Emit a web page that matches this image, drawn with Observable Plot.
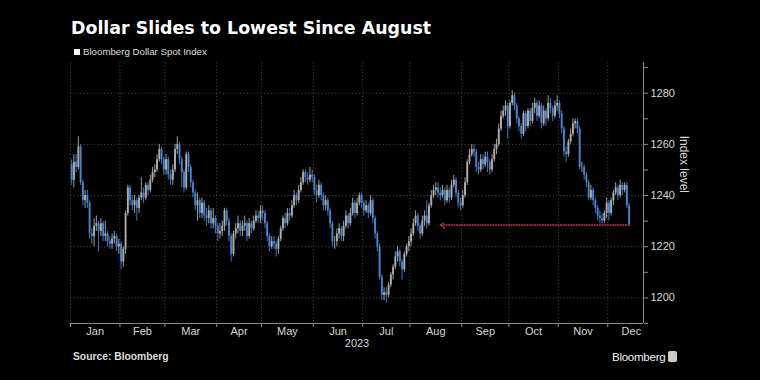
<!DOCTYPE html>
<html>
<head>
<meta charset="utf-8">
<script src="https://cdn.jsdelivr.net/npm/d3@7"></script>
<script src="https://cdn.jsdelivr.net/npm/@observablehq/plot@0.6"></script>
<style>
  html, body { margin: 0; padding: 0; background: #000; }
  #wrap { position: relative; width: 760px; height: 380px; background: #000; overflow: hidden; font-family: "Liberation Sans", Arial, sans-serif; }
  #title { position: absolute; left: 71px; top: 18px; color: #fff; font-family: "DejaVu Sans", sans-serif; font-weight: bold; font-size: 17.4px; line-height: 21px; white-space: nowrap; }
  #sub { position: absolute; left: 74px; top: 46px; color: #ddd; font-size: 9.7px; line-height: 12px; white-space: nowrap; }
  #sub span.sq { display: inline-block; width: 6px; height: 6px; background: #fff; margin-right: 3px; vertical-align: 0px; }
  #source { position: absolute; left: 73px; top: 351px; color: #ddd; font-weight: bold; font-size: 10.3px; line-height: 12px; white-space: nowrap; }
  #logo { position: absolute; left: 612px; top: 349px; color: #eee; font-size: 11.6px; letter-spacing: -0.3px; line-height: 15px; white-space: nowrap; }
  #logo span.ic { display: inline-block; width: 9px; height: 11px; background: #ccc; border-radius: 2px; margin-left: 3px; vertical-align: -1px; }
  #chart { position: absolute; left: 0; top: 0; }
</style>
</head>
<body>
<div id="wrap">
  <div id="chart"></div>
  <div id="title">Dollar Slides to Lowest Since August</div>
  <div id="sub"><span class="sq"></span>Bloomberg Dollar Spot Index</div>
  <div id="source">Source: Bloomberg</div>
  <div id="logo">Bloomberg<span class="ic"></span></div>
</div>
<script>
// ---- Data (trading days of 2023) ----
const monthNames = ["Jan","Feb","Mar","Apr","May","Jun","Jul","Aug","Sep","Oct","Nov","Dec"];
const monthTradingDays = [22,20,23,20,23,22,21,23,21,22,22,21];
const yearLabel = "2023";
const firstOpen = 1252;

const closeJan = [1246,1253,1251,1259,1245,1238,1240,1237,1225,1224,1228,1229,1226,1229,1224,1225,1222,1221,1223,1224,1220,1221];
const highJan  = [1254,1256,1256,1263,1260,1246,1242,1242,1238,1227,1231,1232,1230,1231,1230,1230,1226,1224,1225,1226,1225,1223];
const lowJan   = [1244,1243,1249,1250,1244,1236,1235,1235,1223,1221,1220,1226,1218,1224,1222,1222,1220,1219,1219,1221,1218,1217];

const closeFeb = [1214,1219,1233,1243,1238,1236,1238,1235,1239,1241,1239,1244,1242,1246,1249,1250,1254,1258,1254,1250];
const highFeb  = [1222,1220,1234,1244,1244,1240,1240,1239,1240,1247,1243,1245,1245,1248,1251,1252,1256,1260,1259,1255];
const lowFeb   = [1211,1212,1217,1232,1236,1234,1233,1230,1233,1238,1237,1238,1240,1241,1245,1247,1249,1253,1252,1248];

const closeMar = [1254,1248,1246,1250,1258,1260,1254,1249,1243,1256,1251,1245,1241,1236,1238,1233,1237,1232,1231,1234,1229,1231,1228];
const highMar  = [1256,1255,1250,1252,1260,1263,1261,1255,1250,1257,1257,1252,1246,1242,1241,1239,1239,1238,1235,1236,1235,1235,1232];
const lowMar   = [1248,1246,1244,1244,1249,1256,1252,1243,1241,1242,1249,1243,1239,1234,1230,1231,1231,1230,1228,1229,1227,1227,1225];

const closeApr = [1225,1226,1228,1234,1230,1224,1217,1225,1227,1229,1226,1228,1229,1224,1229,1227,1230,1232,1231,1234];
const highApr  = [1229,1229,1230,1235,1235,1231,1225,1226,1229,1232,1230,1230,1232,1230,1231,1230,1232,1234,1234,1236];
const lowApr   = [1222,1223,1224,1226,1228,1222,1214,1216,1223,1225,1224,1224,1226,1222,1223,1225,1226,1229,1229,1229];

const closeMay = [1233,1229,1224,1220,1222,1221,1219,1223,1227,1231,1229,1233,1232,1236,1240,1238,1242,1245,1249,1247,1246,1248,1247];
const highMay  = [1236,1234,1230,1225,1224,1224,1222,1224,1228,1232,1233,1235,1235,1238,1242,1241,1244,1247,1250,1250,1249,1251,1250];
const lowMay   = [1230,1227,1222,1218,1219,1219,1216,1217,1222,1226,1227,1228,1230,1231,1235,1236,1237,1241,1244,1245,1244,1245,1245];

const closeJun = [1242,1240,1244,1240,1236,1238,1234,1229,1222,1222,1225,1227,1224,1228,1232,1229,1233,1237,1233,1237,1240,1237];
const highJun  = [1248,1244,1246,1245,1241,1240,1239,1235,1230,1224,1227,1229,1228,1230,1234,1233,1235,1239,1238,1239,1241,1241];
const lowJun   = [1240,1237,1239,1238,1234,1234,1232,1227,1220,1219,1220,1223,1222,1222,1227,1227,1228,1232,1231,1232,1236,1235];

const closeJul = [1234,1236,1233,1238,1231,1225,1220,1208,1201,1202,1201,1205,1209,1212,1216,1218,1214,1211,1217,1220,1222];
const highJul  = [1238,1238,1237,1240,1239,1232,1226,1221,1209,1204,1204,1206,1210,1213,1218,1220,1219,1215,1218,1221,1224];
const lowJul   = [1232,1233,1231,1232,1229,1223,1218,1207,1199,1199,1198,1200,1204,1207,1211,1214,1212,1207,1210,1216,1218];

const closeAug = [1225,1229,1232,1228,1225,1230,1232,1229,1236,1240,1242,1243,1241,1240,1242,1238,1242,1239,1244,1246,1241,1237,1236];
const highAug  = [1227,1231,1234,1233,1229,1232,1234,1238,1237,1242,1244,1245,1245,1243,1244,1243,1244,1243,1246,1248,1247,1242,1239];
const lowAug   = [1220,1224,1228,1226,1223,1224,1228,1227,1228,1235,1239,1240,1239,1238,1239,1236,1237,1237,1238,1243,1239,1235,1234];

const closeSep = [1240,1245,1253,1256,1258,1257,1251,1250,1254,1252,1255,1253,1250,1254,1258,1260,1266,1271,1273,1275,1267];
const highSep  = [1242,1247,1254,1258,1260,1260,1258,1253,1256,1256,1257,1257,1254,1256,1260,1262,1268,1273,1275,1277,1276];
const lowSep   = [1235,1239,1244,1252,1255,1255,1249,1248,1249,1250,1251,1249,1248,1249,1253,1256,1259,1265,1270,1271,1262];

const closeOct = [1276,1279,1275,1270,1267,1264,1272,1267,1273,1269,1274,1276,1271,1275,1268,1273,1270,1276,1274,1271,1275,1276];
const highOct  = [1277,1281,1280,1276,1271,1268,1273,1273,1274,1274,1276,1278,1277,1277,1276,1275,1274,1279,1278,1275,1277,1279];
const lowOct   = [1266,1275,1273,1268,1265,1262,1263,1265,1266,1267,1268,1272,1269,1270,1266,1267,1267,1269,1272,1269,1270,1273];

const closeNov = [1272,1266,1257,1256,1261,1264,1268,1269,1266,1251,1251,1248,1245,1239,1242,1238,1235,1232,1231,1230,1233,1237];
const highNov  = [1277,1273,1267,1259,1262,1266,1270,1270,1270,1267,1253,1252,1249,1246,1244,1243,1239,1236,1234,1233,1234,1239];
const lowNov   = [1270,1264,1255,1253,1255,1260,1263,1266,1264,1250,1249,1246,1243,1238,1238,1236,1233,1230,1229,1229,1229,1231];

const closeDec = [1233,1238,1241,1243,1240,1244,1242,1244,1236,1228.5];
const highDec  = [1238,1239,1242,1245,1244,1246,1245,1245,1245,1237];
const lowDec   = [1230,1232,1236,1240,1238,1239,1240,1241,1235,1228];

const yTicks = [1200,1220,1240,1260,1280];
const yMinorTicks = [1190,1210,1230,1250,1270,1290];
const yDomain = [1190, 1292];
const xDomain = [-0.5, 254.4];

// annotation: lowest since August
const arrowFromDay = 248, arrowToDay = 164, arrowLevel = 1228.5;

// ---- Build ----
const close = [].concat(closeJan,closeFeb,closeMar,closeApr,closeMay,closeJun,closeJul,closeAug,closeSep,closeOct,closeNov,closeDec);
const high  = [].concat(highJan,highFeb,highMar,highApr,highMay,highJun,highJul,highAug,highSep,highOct,highNov,highDec);
const low   = [].concat(lowJan,lowFeb,lowMar,lowApr,lowMay,lowJun,lowJul,lowAug,lowSep,lowOct,lowNov,lowDec);
const candles = close.map((c, i) => {
  const o = i === 0 ? firstOpen : close[i - 1];
  return {i, open: o, close: c, high: high[i], low: low[i], up: c >= o};
});

const starts = [];
monthTradingDays.reduce((acc, n) => { starts.push(acc); return acc + n; }, 0);
const months = monthNames.map((name, k) => ({name, boundary: starts[k] - 0.5, mid: starts[k] - 0.5 + monthTradingDays[k] / 2}));

const UP = "#adadad", DOWN = "#4a84cc", GRID = "#444", AXIS = "#8a8a8a", TXT = "#d6d6d6";

const chart = Plot.plot({
  width: 760,
  height: 380,
  marginTop: 62,
  marginBottom: 57,
  marginLeft: 70,
  marginRight: 117,
  style: {background: "#000", color: TXT, fontFamily: "'Liberation Sans', Arial, sans-serif", fontSize: "11px"},
  x: {domain: xDomain},
  y: {domain: yDomain},
  marks: [
    Plot.ruleY(yTicks, {stroke: GRID, strokeDasharray: "1.2,2.2"}),
    Plot.ruleX(months, {x: "boundary", stroke: GRID, strokeDasharray: "1.2,2.2"}),
    Plot.ruleX(candles, {x: "i", y1: "low", y2: "high", stroke: d => d.up ? UP : DOWN, strokeWidth: 0.9}),
    Plot.ruleX(candles, {x: "i", y1: "open", y2: "close", stroke: d => d.up ? UP : DOWN, strokeWidth: 1.9}),
    Plot.arrow([{from: arrowFromDay, to: arrowToDay, level: arrowLevel}], {
      x1: "from", x2: "to", y1: "level", y2: "level",
      stroke: "#d42f4a", strokeWidth: 1.3, strokeDasharray: "1,1.6", headLength: 6, headAngle: 70
    }),
    Plot.ruleY([yDomain[0]], {stroke: AXIS}),
    Plot.ruleX([xDomain[1]], {stroke: AXIS}),
    Plot.axisX(months.map(m => m.boundary), {tickSize: 4, tickFormat: () => "", stroke: AXIS, label: null}),
    Plot.text(months, {x: "mid", text: "name", frameAnchor: "bottom", dy: 11, fill: TXT, fontSize: 11}),
    Plot.text([yearLabel], {frameAnchor: "bottom", dy: 23, fill: TXT, fontSize: 11}),
    Plot.axisY(yMinorTicks, {anchor: "right", tickSize: 4, tickFormat: () => "", stroke: AXIS, label: null}),
    Plot.axisY(yTicks, {anchor: "right", tickSize: 4, tickPadding: 3, stroke: AXIS, fill: TXT, fontSize: 11, label: null, tickFormat: d => String(d)}),
    Plot.text(["Index level"], {frameAnchor: "right", dx: 40, rotate: 90, fill: TXT, fontSize: 12})
  ]
});
document.getElementById("chart").appendChild(chart);
</script>
</body>
</html>
